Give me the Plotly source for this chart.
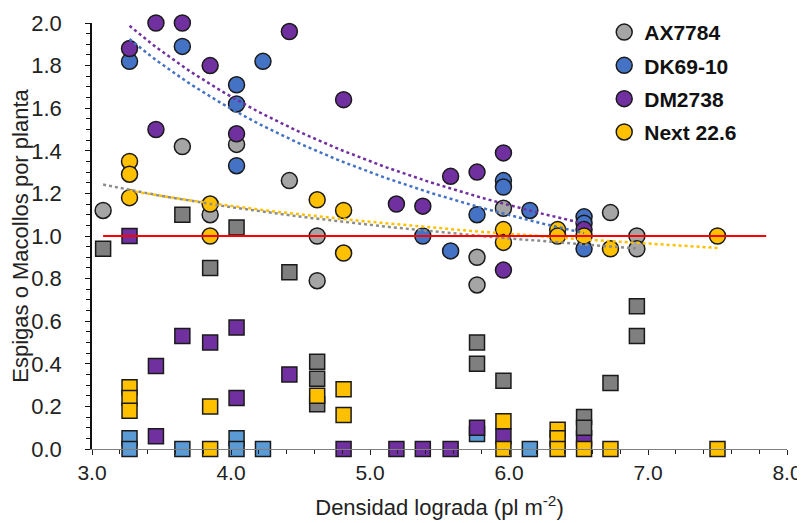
import numpy as np
import plotly.graph_objects as go

# ---------------- data ----------------
series_names = ["AX7784", "DK69-10", "DM2738", "Next 22.6"]

# Espigas por planta (circles)
ax_circ_x = [3.08, 3.65, 3.85, 4.04, 4.42, 4.62, 4.62, 5.77, 5.77, 5.96, 6.73, 6.92, 6.92]
ax_circ_y = [1.12, 1.42, 1.10, 1.43, 1.26, 1.00, 0.79, 0.90, 0.77, 1.13, 1.11, 1.00, 0.94]

dk_circ_x = [3.27, 3.65, 4.04, 4.04, 4.04, 4.23, 5.38, 5.58, 5.77, 5.96, 5.96, 6.15, 6.54, 6.54, 6.54]
dk_circ_y = [1.82, 1.89, 1.71, 1.62, 1.33, 1.82, 1.00, 0.93, 1.10, 1.26, 1.23, 1.12, 1.09, 1.06, 0.94]

dm_circ_x = [3.27, 3.46, 3.46, 3.65, 3.85, 4.04, 4.42, 4.81, 5.19, 5.38, 5.58, 5.77, 5.96, 5.96, 6.54]
dm_circ_y = [1.88, 2.00, 1.50, 2.00, 1.80, 1.48, 1.96, 1.64, 1.15, 1.14, 1.28, 1.30, 1.39, 0.84, 1.03]

nx_circ_x = [3.27, 3.27, 3.27, 3.85, 3.85, 4.62, 4.81, 4.81, 5.96, 5.96, 6.35, 6.35, 6.54, 6.73, 7.50]
nx_circ_y = [1.35, 1.29, 1.18, 1.15, 1.00, 1.17, 1.12, 0.92, 1.03, 0.97, 1.03, 1.00, 1.00, 0.94, 1.00]

# Macollos por planta (squares)
ax_sq_x = [3.08, 3.65, 3.85, 4.04, 4.42, 4.62, 4.62, 4.62, 5.77, 5.77, 5.96, 6.54, 6.54, 6.73, 6.92, 6.92]
ax_sq_y = [0.94, 1.10, 0.85, 1.04, 0.83, 0.41, 0.33, 0.21, 0.50, 0.40, 0.32, 0.15, 0.10, 0.31, 0.67, 0.53]

dk_sq_x = [3.27, 3.27, 3.65, 4.04, 4.04, 4.23, 5.77, 6.15]
dk_sq_y = [0.05, 0.00, 0.00, 0.05, 0.00, 0.00, 0.07, 0.00]

dm_sq_x = [3.27, 3.46, 3.46, 3.65, 3.85, 4.04, 4.04, 4.42, 4.81, 5.19, 5.38, 5.58, 5.77, 5.96, 6.54]
dm_sq_y = [1.00, 0.39, 0.06, 0.53, 0.50, 0.57, 0.24, 0.35, 0.00, 0.00, 0.00, 0.00, 0.10, 0.06, 0.05]

nx_sq_x = [3.27, 3.27, 3.27, 3.85, 3.85, 4.62, 4.81, 4.81, 5.96, 5.96, 6.35, 6.35, 6.35, 6.54, 6.73, 7.50]
nx_sq_y = [0.29, 0.24, 0.18, 0.20, 0.00, 0.25, 0.28, 0.16, 0.13, 0.00, 0.09, 0.05, 0.00, 0.00, 0.00, 0.00]

ref_x = [3.08, 7.85]
ref_y = [1.0, 1.0]

x_ticks = [3.0, 4.0, 5.0, 6.0, 7.0, 8.0]
y_ticks = [0.0, 0.2, 0.4, 0.6, 0.8, 1.0, 1.2, 1.4, 1.6, 1.8, 2.0]

# ---------------- styles ----------------
circ_colors = ["#A5A5A5", "#4472C4", "#7030A0", "#FFC000"]
sq_colors = ["#7F7F7F", "#5B9BD5", "#7030A0", "#FFC000"]
trend_colors = ["#8C8C8C", "#4472C4", "#7030A0", "#FFC000"]
FONT = "Liberation Sans, Arial, sans-serif"

circ_data = [(ax_circ_x, ax_circ_y), (dk_circ_x, dk_circ_y), (dm_circ_x, dm_circ_y), (nx_circ_x, nx_circ_y)]
sq_data = [(ax_sq_x, ax_sq_y), (dk_sq_x, dk_sq_y), (dm_sq_x, dm_sq_y), (nx_sq_x, nx_sq_y)]

fig = go.Figure()

# squares first (blue, purple, gray, yellow)
for i in [1, 2, 0, 3]:
    xs, ys = sq_data[i]
    fig.add_trace(go.Scatter(
        x=xs, y=ys, mode="markers", showlegend=False, cliponaxis=False,
        marker=dict(symbol="square", size=15, color=sq_colors[i],
                    line=dict(color="#1a1a1a", width=1.5)),
    ))

# circles
for i in range(4):
    xs, ys = circ_data[i]
    fig.add_trace(go.Scatter(
        x=xs, y=ys, mode="markers", name=series_names[i], legendgroup=series_names[i],
        cliponaxis=False,
        marker=dict(symbol="circle", size=16, color=circ_colors[i],
                    line=dict(color="#1a1a1a", width=1.5)),
    ))

# trend lines (power fit of circles)
for i in range(4):
    xs, ys = np.array(circ_data[i][0]), np.array(circ_data[i][1])
    b, a = np.polyfit(np.log(xs), np.log(ys), 1)
    tx = np.linspace(xs.min(), xs.max(), 80)
    ty = np.exp(a) * tx ** b
    fig.add_trace(go.Scatter(
        x=tx, y=ty, mode="lines", showlegend=False,
        line=dict(color=trend_colors[i], width=2.5, dash="dot"),
    ))

# reference line y = 1
fig.add_trace(go.Scatter(x=ref_x, y=ref_y, mode="lines", showlegend=False,
                         line=dict(color="#FF0000", width=2)))

# the page body adds an 8px offset, so the figure is sized to the visible area
fig.update_layout(
    width=797, height=515,
    margin=dict(l=84, r=18, t=15, b=74, autoexpand=False),
    paper_bgcolor="white", plot_bgcolor="white",
    font=dict(family=FONT, size=22, color="#222222"),
    legend=dict(x=0.737, y=1.026, xanchor="left", yanchor="top",
                font=dict(family=FONT, size=21, color="#111111", weight="bold"),
                bgcolor="rgba(0,0,0,0)", tracegroupgap=3, itemwidth=30),
    xaxis=dict(range=[3, 8], tickvals=x_ticks, ticktext=[f"{v:.1f}" for v in x_ticks],
               showgrid=False, zeroline=False, showline=True, linecolor="#7F7F7F", linewidth=1,
               ticks="outside", ticklen=5, tickcolor="#222222",
               minor=dict(dtick=0.2, ticks="outside", ticklen=4, tickcolor="#222222"),
               ticklabeloverflow="allow",
               title=dict(text="Densidad lograda (pl m<sup>-2</sup>)", standoff=16,
                          font=dict(size=22)),
               tickfont=dict(size=21), automargin=False),
    yaxis=dict(range=[0, 2], tickvals=y_ticks, ticktext=[f"{v:.1f}" for v in y_ticks],
               showgrid=False, zeroline=False, showline=True, linecolor="#111111", linewidth=1.5,
               ticks="outside", ticklen=5, tickcolor="#111111",
               minor=dict(dtick=0.05, ticks="outside", ticklen=4, tickcolor="#111111"),
               ticklabelstandoff=19,
               title=dict(text="Espigas o Macollos por planta", standoff=5, font=dict(size=22)),
               tickfont=dict(size=22), automargin=False),
)

fig.write_html("out.html")
